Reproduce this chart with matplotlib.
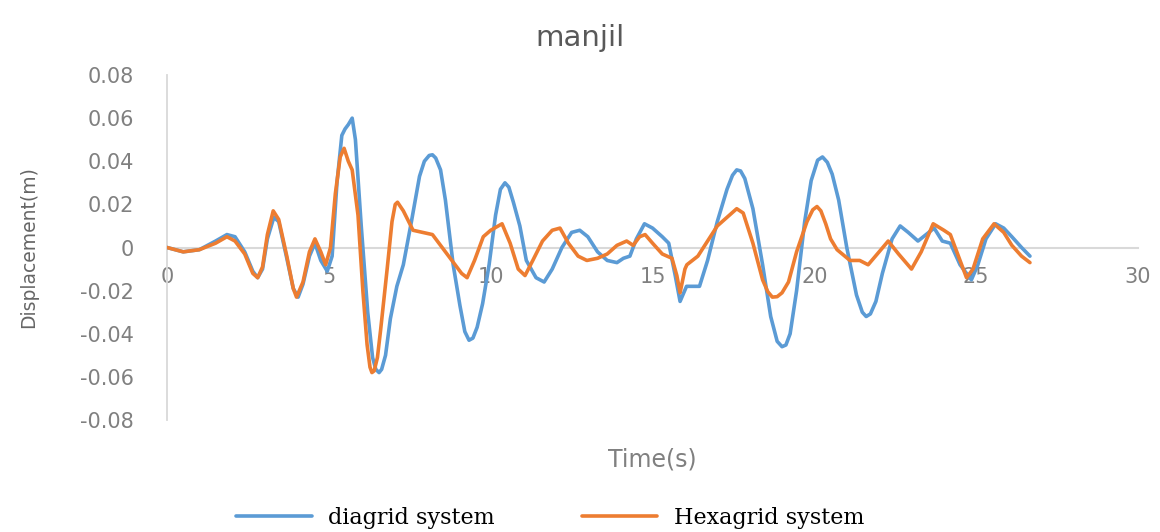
import matplotlib.pyplot as plt
from matplotlib.ticker import FixedLocator, FixedFormatter

# diagrid system response: (time s, displacement m)
diagrid = [
    (0.0, 0.000), (0.5, -0.002), (1.0, -0.001), (1.5, 0.003), (1.85, 0.006),
    (2.1, 0.005), (2.4, -0.002), (2.65, -0.011), (2.8, -0.014), (2.95, -0.010),
    (3.1, 0.004), (3.3, 0.014), (3.45, 0.012), (3.7, -0.005), (3.9, -0.019),
    (4.05, -0.023), (4.2, -0.017), (4.4, -0.004), (4.57, 0.002), (4.75, -0.006),
    (4.95, -0.011), (5.1, -0.004), (5.25, 0.030), (5.4, 0.052), (5.5, 0.055),
    (5.6, 0.057), (5.72, 0.060), (5.82, 0.050), (6.0, 0.010), (6.2, -0.030),
    (6.35, -0.051), (6.45, -0.0565), (6.55, -0.058), (6.63, -0.0565), (6.75, -0.050),
    (6.9, -0.033), (7.1, -0.018), (7.3, -0.008), (7.55, 0.012), (7.8, 0.033),
    (7.95, 0.040), (8.1, 0.0427), (8.2, 0.043), (8.3, 0.0415), (8.45, 0.036),
    (8.6, 0.022), (8.84, -0.008), (9.05, -0.027), (9.2, -0.039), (9.33, -0.043),
    (9.45, -0.042), (9.58, -0.037), (9.75, -0.026), (9.95, -0.008), (10.15, 0.015),
    (10.3, 0.027), (10.44, 0.030), (10.56, 0.028), (10.7, 0.021), (10.9, 0.010),
    (11.1, -0.006), (11.4, -0.014), (11.65, -0.016), (11.9, -0.010), (12.2, 0.000),
    (12.5, 0.007), (12.75, 0.008), (13.0, 0.005), (13.3, -0.002), (13.6, -0.006),
    (13.9, -0.007), (14.1, -0.005), (14.3, -0.004), (14.5, 0.004), (14.75, 0.011),
    (15.0, 0.009), (15.3, 0.005), (15.5, 0.002), (15.7, -0.013), (15.85, -0.025),
    (16.05, -0.018), (16.45, -0.018), (16.7, -0.006), (17.0, 0.012), (17.3, 0.027),
    (17.47, 0.0335), (17.6, 0.036), (17.72, 0.0355), (17.85, 0.032), (18.1, 0.018),
    (18.4, -0.008), (18.65, -0.032), (18.85, -0.0435), (19.0, -0.046), (19.12, -0.0452),
    (19.25, -0.040), (19.45, -0.020), (19.7, 0.012), (19.9, 0.031), (20.1, 0.0405),
    (20.25, 0.042), (20.4, 0.0395), (20.55, 0.034), (20.75, 0.022), (21.0, 0.000),
    (21.3, -0.022), (21.48, -0.030), (21.6, -0.032), (21.73, -0.0308), (21.9, -0.025),
    (22.1, -0.012), (22.4, 0.004), (22.65, 0.010), (22.9, 0.007), (23.2, 0.003),
    (23.45, 0.006), (23.7, 0.009), (23.95, 0.003), (24.2, 0.002), (24.5, -0.008),
    (24.85, -0.015), (25.05, -0.008), (25.3, 0.004), (25.6, 0.011), (25.85, 0.009),
    (26.1, 0.005), (26.4, 0.000), (26.66, -0.004),
]

# hexagrid system response: (time s, displacement m)
hexagrid = [
    (0.0, 0.000), (0.5, -0.002), (1.0, -0.001), (1.5, 0.002), (1.85, 0.005),
    (2.1, 0.003), (2.4, -0.003), (2.65, -0.012), (2.8, -0.014), (2.95, -0.009),
    (3.1, 0.006), (3.28, 0.017), (3.45, 0.013), (3.7, -0.004), (3.9, -0.019),
    (4.0, -0.023), (4.2, -0.016), (4.4, -0.002), (4.57, 0.004), (4.75, -0.002),
    (4.9, -0.008), (5.05, 0.000), (5.2, 0.025), (5.35, 0.042), (5.47, 0.046),
    (5.6, 0.040), (5.72, 0.036), (5.9, 0.015), (6.05, -0.020), (6.18, -0.045),
    (6.27, -0.0555), (6.33, -0.058), (6.4, -0.0572), (6.5, -0.051), (6.6, -0.038),
    (6.8, -0.010), (6.95, 0.012), (7.05, 0.020), (7.12, 0.021), (7.3, 0.017),
    (7.6, 0.008), (7.9, 0.007), (8.2, 0.006), (8.5, 0.000), (8.8, -0.006),
    (9.1, -0.012), (9.27, -0.014), (9.5, -0.006), (9.77, 0.005), (10.0, 0.008),
    (10.35, 0.011), (10.6, 0.002), (10.85, -0.010), (11.06, -0.013), (11.3, -0.006),
    (11.6, 0.003), (11.9, 0.008), (12.14, 0.009), (12.4, 0.002), (12.7, -0.004),
    (12.97, -0.006), (13.3, -0.005), (13.6, -0.003), (13.9, 0.001), (14.2, 0.003),
    (14.4, 0.001), (14.6, 0.005), (14.77, 0.006), (15.0, 0.002), (15.3, -0.003),
    (15.6, -0.005), (15.75, -0.013), (15.85, -0.021), (16.0, -0.010), (16.06, -0.008),
    (16.4, -0.004), (16.7, 0.003), (17.0, 0.010), (17.3, 0.014), (17.6, 0.018),
    (17.8, 0.016), (18.1, 0.002), (18.4, -0.015), (18.56, -0.0205), (18.7, -0.023),
    (18.85, -0.0228), (19.0, -0.021), (19.2, -0.016), (19.45, -0.002), (19.77, 0.012),
    (19.95, 0.0175), (20.08, 0.019), (20.2, 0.017), (20.35, 0.011), (20.5, 0.004),
    (20.7, -0.001), (21.1, -0.006), (21.4, -0.006), (21.66, -0.008), (22.0, -0.002),
    (22.28, 0.003), (22.6, -0.003), (23.0, -0.010), (23.3, -0.002), (23.67, 0.011),
    (24.0, 0.008), (24.2, 0.006), (24.45, -0.004), (24.7, -0.014), (24.9, -0.010),
    (25.2, 0.004), (25.55, 0.011), (25.85, 0.007), (26.1, 0.001), (26.4, -0.004),
    (26.66, -0.007),
]

x_ticks = [0, 5, 10, 15, 20, 25, 30]
y_ticks = [-0.08, -0.06, -0.04, -0.02, 0, 0.02, 0.04, 0.06, 0.08]
y_tick_labels = ["-0.08", "-0.06", "-0.04", "-0.02", "0",
                 "0.02", "0.04", "0.06", "0.08"]

BLUE = "#5b9bd5"
ORANGE = "#ed7d31"
AXIS_GREY = "#d9d9d9"
TEXT_GREY = "#808080"

t_dia, d_dia = zip(*diagrid)
t_hex, d_hex = zip(*hexagrid)

fig = plt.figure(figsize=(11.6, 5.32), dpi=100)
ax = fig.add_axes([0.144, 0.2105, 0.8371, 0.6485])

ax.plot(t_dia, d_dia, color=BLUE, lw=2.6, solid_joinstyle="round",
        solid_capstyle="round", label="diagrid system", zorder=3)
ax.plot(t_hex, d_hex, color=ORANGE, lw=2.6, solid_joinstyle="round",
        solid_capstyle="round", label="Hexagrid system", zorder=4)

ax.set_xlim(0, 30)
ax.set_ylim(-0.08, 0.08)

# zero line doubles as the x axis
ax.spines["top"].set_visible(False)
ax.spines["right"].set_visible(False)
ax.spines["bottom"].set_position(("data", 0))
ax.spines["bottom"].set_color(AXIS_GREY)
ax.spines["bottom"].set_linewidth(1.5)
ax.spines["left"].set_color(AXIS_GREY)
ax.spines["left"].set_linewidth(1.3)

ax.xaxis.set_major_locator(FixedLocator(x_ticks))
ax.yaxis.set_major_locator(FixedLocator(y_ticks))
ax.yaxis.set_major_formatter(FixedFormatter(y_tick_labels))
ax.tick_params(axis="x", length=0, pad=14, labelsize=15, labelcolor=TEXT_GREY)
ax.tick_params(axis="y", length=0, pad=24, labelsize=15, labelcolor=TEXT_GREY)

ax.set_xlabel("Time(s)", fontsize=17, color=TEXT_GREY)
ax.xaxis.set_label_coords(0.5, -0.081)
ax.set_ylabel("Displacement(m)", fontsize=13.5, color="#666666")
ax.yaxis.set_label_coords(-0.133, 0.5)

fig.text(0.5, 1 - 38 / 532, "manjil", ha="center", va="center",
         fontsize=21, color="#595959")

fig.legend(loc="center left", bbox_to_anchor=(236 / 1160, 1 - 518 / 532),
           ncol=2, frameon=False, borderpad=0, borderaxespad=0,
           handlelength=3.4, handletextpad=0.75, columnspacing=3.9,
           prop={"family": "DejaVu Serif", "size": 16})

fig.savefig("out.png", dpi=100)
